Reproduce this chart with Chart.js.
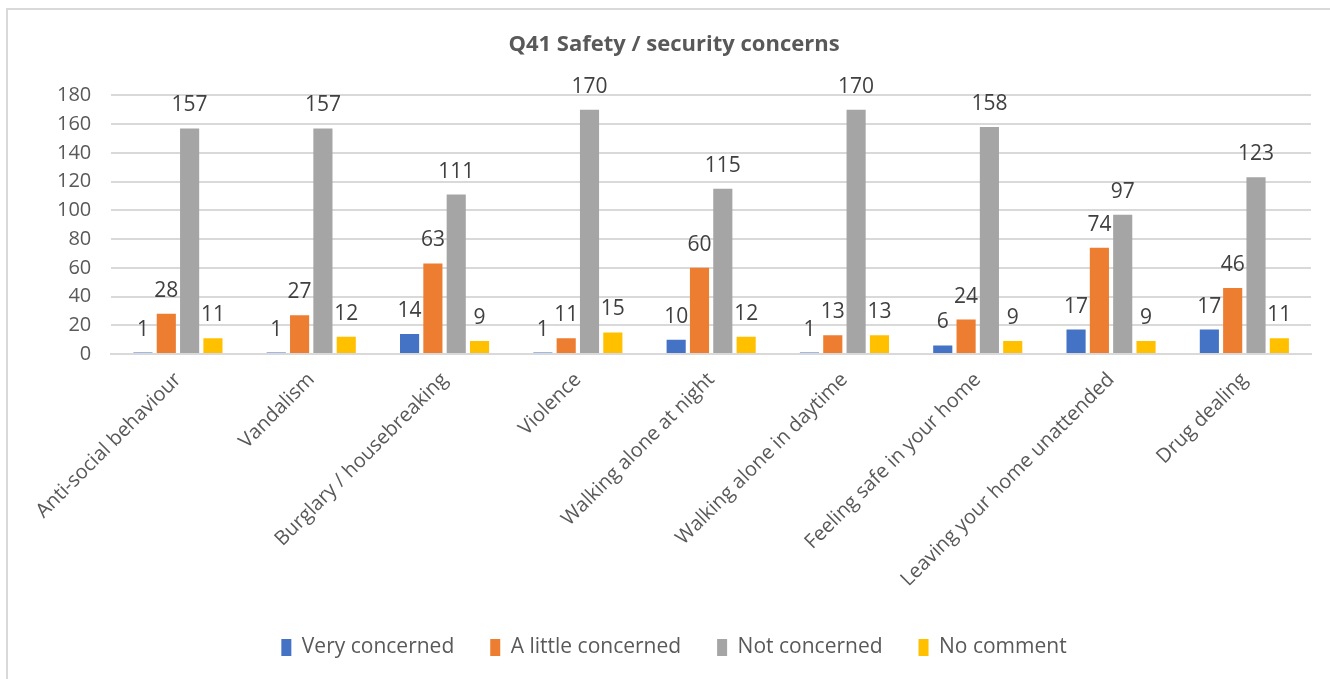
<!DOCTYPE html>
<html>
<head>
<meta charset="utf-8">
<script src="https://cdn.jsdelivr.net/npm/chart.js@4.4.0/dist/chart.umd.min.js"></script>
<style>
    html, body { margin: 0; padding: 0; background: #ffffff; overflow: hidden; }
    #frame {
        position: absolute;
        left: 6px;
        top: 8px;
        width: 1400px;
        height: 700px;
        border-left: 2px solid #d9d9d9;
        border-top: 2px solid #d9d9d9;
    }
    #wrap { position: absolute; left: 0; top: 0; width: 1330px; height: 679px; }
</style>
</head>
<body>
<div id="frame"></div>
<div id="wrap"><canvas id="chart"></canvas></div>
<script>
const categories = [
    'Anti-social behaviour',
    'Vandalism',
    'Burglary / housebreaking',
    'Violence',
    'Walking alone at night',
    'Walking alone in daytime',
    'Feeling safe in your home',
    'Leaving your home unattended',
    'Drug dealing'
];
const veryConcerned = [1, 1, 14, 1, 10, 1, 6, 17, 17];
const littleConcerned = [28, 27, 63, 11, 60, 13, 24, 74, 46];
const notConcerned = [157, 157, 111, 170, 115, 170, 158, 97, 123];
const noComment = [11, 12, 9, 15, 12, 13, 9, 9, 11];

const seriesNames = ['Very concerned', 'A little concerned', 'Not concerned', 'No comment'];
const seriesColors = ['#4472C4', '#ED7D31', '#A5A5A5', '#FFC000'];

const fontFamily = "'Open Sans', 'Noto Sans', sans-serif";

// value labels above each bar
const barLabels = {
    id: 'barLabels',
    afterDatasetsDraw(chart) {
        const ctx = chart.ctx;
        ctx.save();
        ctx.font = '21px ' + fontFamily;
        ctx.fillStyle = '#404040';
        ctx.textAlign = 'center';
        ctx.textBaseline = 'alphabetic';
        chart.data.datasets.forEach((ds, i) => {
            chart.getDatasetMeta(i).data.forEach((bar, j) => {
                ctx.fillText(ds.data[j], bar.x, bar.y - 17);
            });
        });
        ctx.restore();
    }
};

function makeDataset(name, data, color) {
    return {
        label: name,
        data: data,
        backgroundColor: color,
        borderWidth: 0,
        categoryPercentage: 0.70,
        barPercentage: 0.82
    };
}

new Chart(document.getElementById('chart').getContext('2d'), {
    type: 'bar',
    data: {
        labels: categories,
        datasets: [
            makeDataset(seriesNames[0], veryConcerned, seriesColors[0]),
            makeDataset(seriesNames[1], littleConcerned, seriesColors[1]),
            makeDataset(seriesNames[2], notConcerned, seriesColors[2]),
            makeDataset(seriesNames[3], noComment, seriesColors[3])
        ]
    },
    options: {
        responsive: true,
        maintainAspectRatio: false,
        animation: false,
        layout: {
            padding: { left: 37, right: 19, top: 0, bottom: 11 }
        },
        plugins: {
            title: {
                display: true,
                text: 'Q41 Safety / security concerns',
                color: '#595959',
                font: { family: fontFamily, size: 22, weight: 'bold' },
                padding: { top: 32, bottom: 37 }
            },
            legend: {
                position: 'bottom',
                labels: {
                    color: '#595959',
                    font: { family: fontFamily, size: 21 },
                    boxWidth: 10,
                    boxHeight: 17,
                    padding: 36
                }
            },
            tooltip: { enabled: false }
        },
        scales: {
            x: {
                grid: { display: false },
                border: { color: '#d9d9d9', width: 2 },
                ticks: {
                    color: '#595959',
                    font: { family: fontFamily, size: 20 },
                    maxRotation: 45,
                    minRotation: 45,
                    padding: 6
                },
                afterFit(scale) {
                    scale.height = 247;
                    scale.paddingLeft = 0;
                    scale.paddingRight = 0;
                }
            },
            y: {
                min: 0,
                max: 180,
                grid: { color: '#d9d9d9', lineWidth: 2, drawTicks: false },
                border: { display: false },
                ticks: {
                    stepSize: 20,
                    color: '#595959',
                    font: { family: fontFamily, size: 20 },
                    padding: 20
                }
            }
        }
    },
    plugins: [barLabels]
});
</script>
</body>
</html>
